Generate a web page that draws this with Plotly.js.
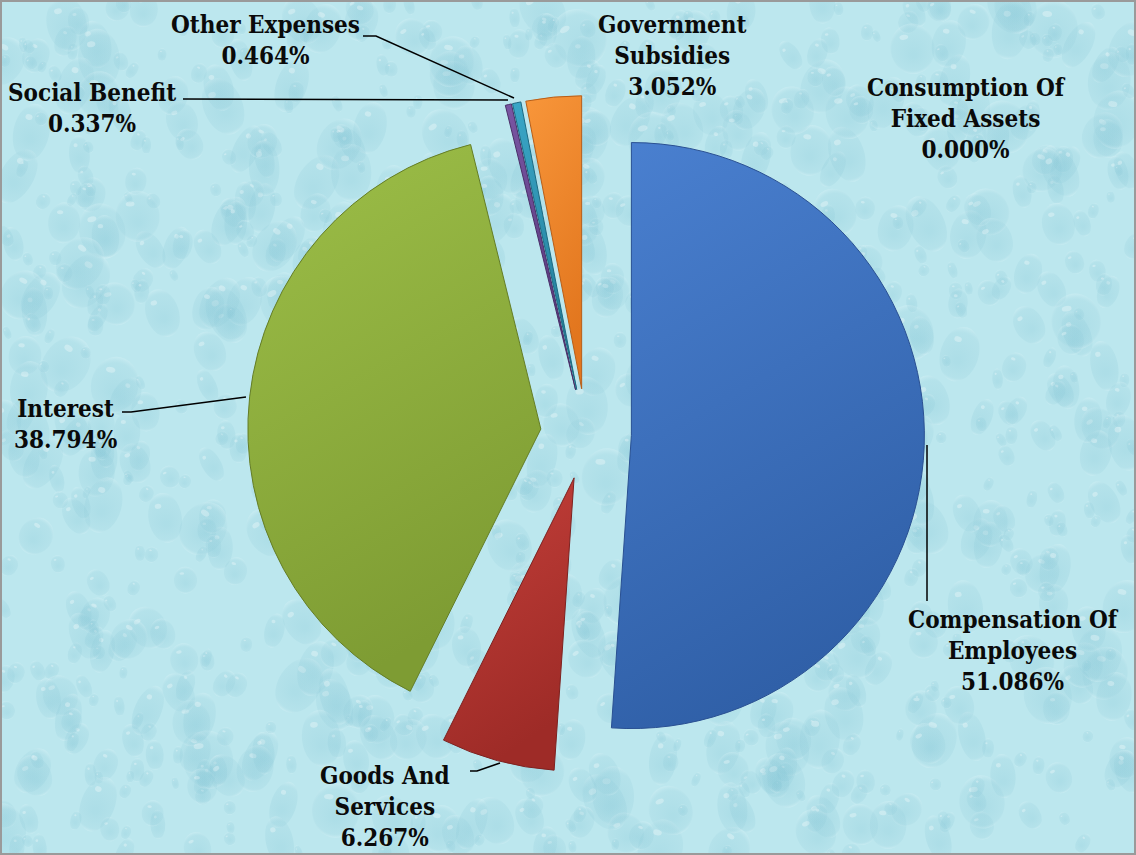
<!DOCTYPE html>
<html><head><meta charset="utf-8">
<script src="https://cdn.plot.ly/plotly-3.0.1.min.js"></script>
<style>html,body{margin:0;padding:0;background:#fff}#chart{width:1136px;height:855px}</style>
</head><body><div id="chart"></div>
<script>
// ---- data ----
const labels = ['Compensation Of Employees','Goods And Services','Interest','Social Benefit','Other Expenses','Government Subsidies','Consumption Of Fixed Assets'];
const values = [51.086, 6.267, 38.794, 0.337, 0.464, 3.052, 0.000];
const labelLines = [['Compensation Of','Employees'],['Goods And','Services'],['Interest'],['Social Benefit'],['Other Expenses'],['Government','Subsidies'],['Consumption Of','Fixed Assets']];

// ---- styles / layout ----
const W = 1136, H = 855;
const colors = ['#3b6db8','#b5342f','#8cab3b','#6a4791','#2d92b2','#f2842a','#999999'];
const edgeColors = ['#2a5092','#7e2220','#647d26','#4a2f68','#1d6a82','#b85e18','#777777'];
const gradTop = ['#4a80d0','#c5403a','#9dbf48','#7a56a3','#3aa7c8','#f8963a','#aaaaaa'];
const gradBot = ['#3060a8','#9e2b27','#7e9c33','#56377a','#237d99','#e2761e','#888888'];
const labelPos = [[1013,650],[385,806],[65,424],[92,108],[265,40],[672,55],[967,118]];
const leaders = [
  [[927,445],[927,601]],
  [[470,771],[477,771],[500,763]],
  [[122,412],[131,412],[246,397]],
  [[183,99],[508,100]],
  [[363,36],[376,36],[514,98]]
];
const pullAmt = 0.155;
const px = x => x / W, py = y => 1 - y / H;

function makeTexture(w, h) {
  const c = document.createElement('canvas'); c.width = w; c.height = h;
  const g = c.getContext('2d');
  g.fillStyle = '#bce7ee'; g.fillRect(0, 0, w, h);
  let s = 987654321;
  const rnd = () => { s = (s * 1103515245 + 12345) % 2147483648; return s / 2147483648; };
  for (let i = 0; i < 1100; i++) {
    const x = rnd() * w, y = rnd() * h, r = 6 + Math.pow(rnd(), 1.5) * 24;
    const rx = r * (0.5 + rnd() * 0.4), ang = (rnd() - 0.5) * 1.2;
    g.save(); g.translate(x, y); g.rotate(ang);
    const grd = g.createRadialGradient(0, r * 0.25, r * 0.1, 0, 0, r);
    grd.addColorStop(0, 'rgba(120,190,208,0.22)');
    grd.addColorStop(0.8, 'rgba(140,200,215,0.16)');
    grd.addColorStop(1, 'rgba(235,250,252,0.25)');
    g.fillStyle = grd; g.beginPath(); g.ellipse(0, 0, rx, r, 0, 0, Math.PI * 2); g.fill();
    g.fillStyle = 'rgba(255,255,255,0.30)';
    g.beginPath(); g.ellipse(-rx * 0.3, -r * 0.5, rx * 0.2, r * 0.1, 0, 0, Math.PI * 2); g.fill();
    g.restore();
  }
  return c.toDataURL('image/png');
}

// pie geometry: centre (586,434), radius ~293 px
const cx = 586, cy = 434, R = 293;
const half = R * (1 + pullAmt);
const domain = { x: [px(cx - half), px(cx + half)], y: [py(cy + half), py(cy - half)] };

const trace = {
  type: 'pie', labels: labels, values: values, sort: false, direction: 'clockwise', rotation: 0,
  pull: values.map(() => pullAmt), textinfo: 'none', hoverinfo: 'label+percent',
  marker: { colors: colors, line: { color: edgeColors, width: values.map(v => v > 0 ? 1 : 0) } },
  domain: domain, showlegend: false
};

const font = { family: '"DejaVu Serif Condensed", "DejaVu Serif", serif', size: 24, color: '#0a0a0a', weight: 'bold' };
const annotations = labels.map((l, i) => ({
  xref: 'paper', yref: 'paper', x: px(labelPos[i][0]), y: py(labelPos[i][1]),
  xanchor: 'center', yanchor: 'middle', showarrow: false, align: 'center',
  text: labelLines[i].map(t => '<b>' + t + '</b>').join('<br>') + '<br><b>' + values[i].toFixed(3) + '%</b>',
  font: font
}));

const shapes = leaders.map(pts => ({
  type: 'path', xref: 'paper', yref: 'paper',
  path: pts.map((p, j) => (j ? 'L' : 'M') + px(p[0]) + ',' + py(p[1])).join(' '),
  line: { color: '#000000', width: 1.5 }
}));
shapes.push({ type: 'rect', xref: 'paper', yref: 'paper', x0: px(1), y0: py(H - 1), x1: px(W - 1), y1: py(1),
  line: { color: '#9a9a9a', width: 2 } });

const layout = {
  width: W, height: H, margin: { l: 0, r: 0, t: 0, b: 0 },
  paper_bgcolor: '#bce7ee', showlegend: false,
  images: [{ source: makeTexture(W, H), xref: 'paper', yref: 'paper', x: 0, y: 1, sizex: 1, sizey: 1,
    sizing: 'stretch', xanchor: 'left', yanchor: 'top', layer: 'below' }],
  annotations: annotations, shapes: shapes
};

Plotly.newPlot('chart', [trace], layout, { displayModeBar: false, staticPlot: true }).then(gd => {
  const svg = gd.querySelector('svg.main-svg');
  const ns = 'http://www.w3.org/2000/svg';
  let defs = svg.querySelector('defs');
  if (!defs) { defs = document.createElementNS(ns, 'defs'); svg.insertBefore(defs, svg.firstChild); }
  gd.querySelectorAll('g.slice').forEach((sl, k) => {
    const d = sl.__data__; const i = d && d.i !== undefined ? d.i : k;
    const lg = document.createElementNS(ns, 'linearGradient');
    lg.setAttribute('id', 'sg' + i);
    lg.setAttribute('x1', '0'); lg.setAttribute('y1', '0'); lg.setAttribute('x2', '0.3'); lg.setAttribute('y2', '1');
    [[0, gradTop[i]], [1, gradBot[i]]].forEach(([o, c]) => {
      const st = document.createElementNS(ns, 'stop'); st.setAttribute('offset', o); st.setAttribute('stop-color', c); lg.appendChild(st);
    });
    defs.appendChild(lg);
    const p = sl.querySelector('path.surface');
    if (p) p.style.fill = 'url(#sg' + i + ')';
  });
});
</script>
</body></html>
